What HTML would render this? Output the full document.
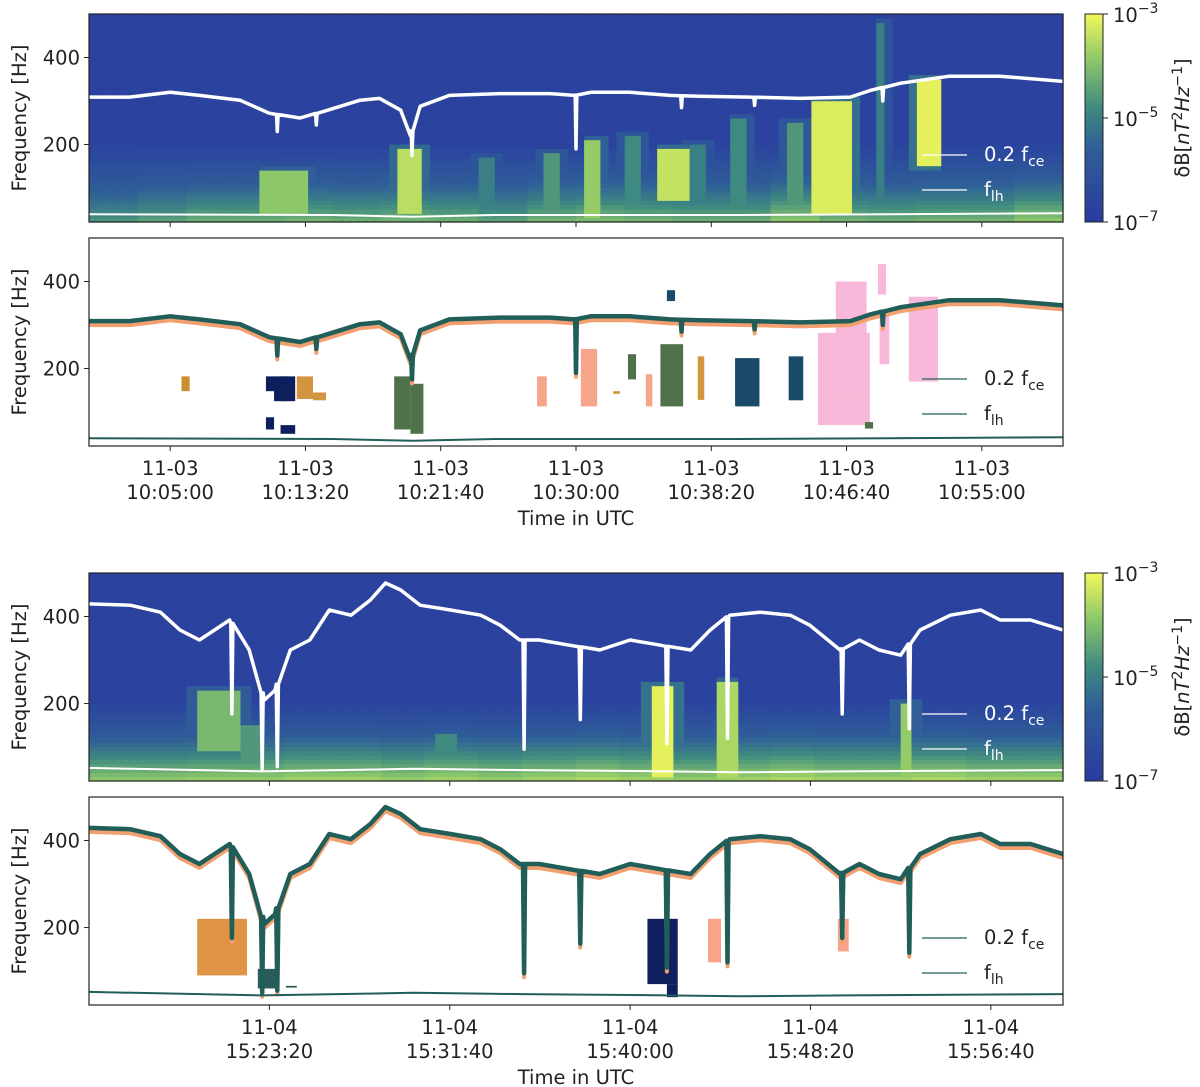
<!DOCTYPE html>
<html><head><meta charset="utf-8">
<style>
body{margin:0;background:#fff;}
svg{display:block;font-family:"DejaVu Sans","Liberation Sans",sans-serif;}
</style></head>
<body>
<svg id="fig" width="1200" height="1087" viewBox="0 0 1200 1087" xmlns="http://www.w3.org/2000/svg">
<defs>
<linearGradient id="cbgrad" x1="0" y1="1" x2="0" y2="0">
<stop offset="0" stop-color="#2a3ba0"/><stop offset="0.35" stop-color="#2f5e98"/>
<stop offset="0.55" stop-color="#3f8a80"/><stop offset="0.78" stop-color="#8cc86a"/>
<stop offset="1" stop-color="#f2f75a"/></linearGradient>
</defs>
</svg>
<script>
// ---------- data (times in minutes from panel start, frequencies in Hz) ----------
const ticksA = ["10:05:00","10:13:20","10:21:40","10:30:00","10:38:20","10:46:40","10:55:00"];
const tickMinA = [5, 13.333, 21.667, 30, 38.333, 46.667, 55];
const ticksB = ["15:23:20","15:31:40","15:40:00","15:48:20","15:56:40"];
const tickMinB = [8.333, 16.667, 25, 33.333, 41.667];

const fceTimeA = [0,2.5,5.0,6.8,9.3,11.1,13.0,14.8,16.7,17.9,19.2,19.8,20.4,22.2,25.3,28.4,29.9,30.9,33.3,35.8,37.6,40.7,43.8,46.9,48.1,50.0,53.0,56.1,60];
const fceValA  = [309,309,320,313,302,272,261,280,302,306,279,220,288,313,317,317,313,320,320,313,311,309,306,309,324,341,357,357,345];
const dipTimeA = [11.6,14.0,19.9,30.0,36.5,41.0,48.9];
const dipValA  = [230,245,175,190,285,290,300];
const flhTimeA = [0,15,20,25,40,60];
const flhValA  = [40,38,34,38,38,42];

const fceTimeB = [0,1.9,3.3,4.2,5.1,6.5,7.4,8.1,8.6,9.3,10.2,11.1,12.1,13.0,13.7,14.4,15.3,16.7,18.1,19.0,19.9,20.8,22.2,23.6,25.0,26.4,27.8,28.7,29.6,31.0,32.4,33.3,34.7,35.6,36.5,37.5,38.4,39.8,41.2,42.1,43.5,45];
const fceValB  = [429,426,410,369,346,392,323,208,231,323,346,415,403,438,477,461,426,415,403,380,346,346,334,323,346,334,323,369,403,410,403,380,323,346,323,311,369,403,415,392,392,369];
const dipTimeB = [6.6,8.0,8.7,20.1,22.7,26.7,29.5,34.8,37.9];
const dipValB  = [176,50,55,95,163,108,120,176,142];
const flhTimeB = [0,8,15,20,25,30,35,45];
const flhValB  = [52,44,50,47,45,42,44,47];

// spectrogram bursts: [t0, t1, fLow, fHigh, level]
const burstT0A = [10.6,18.8,30.6,35.2,27.8,44.6,50.8,48.6,39.6,43.0,24.0,33.0,37.0];
const burstT1A = [13.6,20.6,31.6,37.0,29.0,47.0,52.4,49.0,40.6,44.0,25.0,34.0,38.0];
const burstLoA = [40,40,30,70,40,40,150,30,40,40,40,40,40];
const burstHiA = [141,187,210,190,180,302,348,480,260,250,170,220,200];
const burstLvA = [0.78,0.88,0.8,0.9,0.6,0.95,0.97,0.5,0.55,0.6,0.5,0.55,0.5];
const lowBandA = [0.6,0.65,0.7,0.7,0.72,0.7,0.72,0.7,0.65,0.72,0.75,0.72,0.7,0.7,0.8,0.72,0.7,0.72,0.72,0.8];

const burstT0B = [4.9,25.8,29.2,37.4,7.0,16.0];
const burstT1B = [7.1,27.2,29.9,38.1,8.2,17.0];
const burstLoB = [90,30,30,30,30,30];
const burstHiB = [231,240,250,200,150,130];
const burstLvB = [0.72,0.97,0.85,0.8,0.6,0.55];
const lowBandB = [0.8,0.8,0.82,0.82,0.85,0.85,0.82,0.85,0.82,0.85,0.88,0.85,0.82,0.85,0.88,0.85,0.85,0.88,0.85,0.85];

// classified patches: [t0,t1,f0,f1,colorIndex]
const patchColors = ["#c98f2e","#0d1f5c","#d39540","#4f724a","#f6a58b","#1a4a6a","#f7b8d9","#2a5a5a","#df9445"];
const pT0A=[5.7,10.9,11.4,11.8,10.9,11.8,12.8,13.8,18.8,19.8,27.6,30.3,32.3,33.2,34.3,35.2,35.6,37.5,39.8,43.1,44.9,46.0,46.0,48.6,48.7,50.5,47.8];
const pT1A=[6.2,12.2,12.2,12.7,11.4,12.7,13.8,14.6,19.8,20.6,28.2,31.3,32.7,33.7,34.7,36.6,36.1,37.9,41.3,44.0,48.1,47.9,47.5,49.1,49.3,52.3,48.3];
const pF0A=[148,148,125,125,60,50,130,127,60,50,113,113,142,175,113,113,355,128,113,127,70,100,140,370,210,170,62];
const pF1A=[182,182,162,182,88,70,182,145,182,165,182,245,148,233,187,256,380,228,224,228,282,400,282,440,320,365,77];
const pT0B=[5.0,7.8,9.1,25.8,26.7,28.6,34.6,26.2];
const pT1B=[7.3,8.6,9.6,27.2,27.2,29.2,35.1,26.7];
const pF0B=[90,60,62,70,40,120,145,95];
const pF1B=[220,105,66,220,70,220,220,135];
const pCA=[0,1,1,1,1,1,2,2,3,3,4,4,0,3,4,3,5,2,5,5,6,6,6,6,6,6,3];
const pCB=[8,7,7,1,1,4,4,1];

// ---------- helpers ----------
const NS="http://www.w3.org/2000/svg";
const svg=document.getElementById('fig');
const FS=19.5;
function el(tag,attrs,parent){const e=document.createElementNS(NS,tag);for(const k in attrs)e.setAttribute(k,attrs[k]);(parent||svg).appendChild(e);return e;}
const X0=89,W=974,H=208,FMIN=22,FMAX=500;
function xs(span){return t=>X0+t/span*W;}
function ys(top){return f=>top+(FMAX-f)/(FMAX-FMIN)*H;}
function lerp(ts,vs,t){for(let i=0;i<ts.length-1;i++){if(t<=ts[i+1]){const u=(t-ts[i])/(ts[i+1]-ts[i]);return vs[i]+u*(vs[i+1]-vs[i]);}}return vs[vs.length-1];}
function cmap(v){const st=[[0,[42,63,160]],[0.35,[47,94,152]],[0.55,[63,138,128]],[0.78,[140,200,106]],[1,[242,247,90]]];v=Math.max(0,Math.min(1,v));for(let i=0;i<st.length-1;i++){if(v<=st[i+1][0]){const u=(v-st[i][0])/(st[i+1][0]-st[i][0]);const c=st[i][1].map((a,j)=>Math.round(a+u*(st[i+1][1][j]-a)));return `rgb(${c})`;}}return 'rgb(242,247,90)';}
function linePath(times,vals,dipT,dipV,X,Y,dy){
  const pts=times.map((t,i)=>[t,vals[i]]);
  dipT.forEach((t,i)=>{const base=lerp(times,vals,t);pts.push([t-0.05,base],[t,dipV[i]],[t+0.05,base]);});
  pts.sort((a,b)=>a[0]-b[0]);
  return pts.map((p,i)=>(i?'L':'M')+X(p[0]).toFixed(1)+','+(Y(p[1])+dy).toFixed(1)).join('');
}

function spectro(top,span,bT0,bT1,bLo,bHi,bLv,low,name){
  const X=xs(span),Y=ys(top);
  const g=el('g',{});
  
  
  const nt=Math.round(span*2),nf=48;
  for(let i=0;i<nt;i++){
    const t=(i+0.5)*span/nt;
    const lb=low[Math.min(low.length-1,Math.floor(t/span*low.length))];
    for(let j=0;j<nf;j++){
      const f0=FMIN+j*(FMAX-FMIN)/nf,f1=f0+(FMAX-FMIN)/nf,f=(f0+f1)/2;
      let v=0.04;
      if(f<230)v=Math.max(v,lb*Math.pow(Math.max(0,(230-f)/208),1.3));
      for(let k=0;k<bT0.length;k++){
        if(t>=bT0[k]&&t<=bT1[k]&&f>=bLo[k]&&f<=bHi[k])v=Math.max(v,bLv[k]);
        else if(t>=bT0[k]-0.3&&t<=bT1[k]+0.3&&f>=bLo[k]-12&&f<=bHi[k]+12)v=Math.max(v,bLv[k]*0.45);
      }
      el('rect',{x:X(i*span/nt).toFixed(1),y:Y(f1).toFixed(1),width:(W/nt+0.6).toFixed(1),height:(H/nf+0.6).toFixed(1),fill:cmap(v)},g);
    }
  }
}

function frame(top,name){
  const r=el('rect',{x:X0,y:top,width:W,height:H,fill:'none',stroke:'#222','stroke-width':1.2});
  
  
}
function yaxis(top,name){
  const Y=ys(top);
  [400,200].forEach(f=>{
    el('line',{x1:X0-5,x2:X0,y1:Y(f),y2:Y(f),stroke:'#222'});
    const t=el('text',{x:X0-9,y:Y(f)+7,'text-anchor':'end','font-size':FS,fill:'#222'});t.textContent=f;
    
    
  });
  const yl=el('text',{x:0,y:0,transform:`translate(26,${top+H/2}) rotate(-90)`,'text-anchor':'middle','font-size':FS,fill:'#222'});
  yl.textContent='Frequency [Hz]';
  
  
}
function xticks(top,span,tm,labels,day,withLabels){
  const X=xs(span);
  tm.forEach((m,i)=>{
    el('line',{x1:X(m),x2:X(m),y1:top+H,y2:top+H+5,stroke:'#222'});
    if(withLabels){
      const a=el('text',{x:X(m),y:top+H+29,'text-anchor':'middle','font-size':FS,fill:'#222'});a.textContent=day;
      
      
      const b=el('text',{x:X(m),y:top+H+53,'text-anchor':'middle','font-size':FS,fill:'#222'});b.textContent=labels[i];
      
      
    }
  });
  if(withLabels){
    const t=el('text',{x:576,y:top+H+79,'text-anchor':'middle','font-size':FS,fill:'#222'});t.textContent='Time in UTC';
    
    
  }
}
function legend(top,col){
  const ys1=[top+141,top+176];
  const lab=[['0.2 f','ce'],['f','lh']];
  ys1.forEach((y,i)=>{
    el('line',{x1:922,x2:967,y1:y,y2:y,stroke:col,'stroke-width':1.2});
    const t=el('text',{x:984,y:y+6,'font-size':FS,fill:col==='#fff'?'#fff':'#222'});
    
    
    t.textContent=lab[i][0];
    const s=el('tspan',{dy:5,'font-size':14},t);s.textContent=lab[i][1];
  });
}
function colorbar(top){
  const r=el('rect',{x:1085,y:top,width:18,height:H,fill:'url(#cbgrad)',stroke:'#222','stroke-width':1});
  
  
  [['-3',0],['-5',H/2],['-7',H]].forEach(([e,dy])=>{
    el('line',{x1:1103,x2:1108,y1:top+dy,y2:top+dy,stroke:'#222'});
    const t=el('text',{x:1113,y:top+dy+8,'font-size':FS,fill:'#222'});t.textContent='10';
    
    
    const s=el('tspan',{dy:-9,'font-size':14},t);s.textContent='−'+e.slice(1);
  });
  const t=el('text',{transform:`translate(1189,${top+H/2}) rotate(-90)`,'text-anchor':'middle','font-size':FS,fill:'#222'});
  
  
  t.textContent='δB[';
  const a=el('tspan',{'font-style':'italic'},t);a.textContent='nT';
  const b=el('tspan',{dy:-7,'font-size':14},t);b.textContent='2';
  const c=el('tspan',{dy:7,'font-style':'italic'},t);c.textContent='Hz';
  const d=el('tspan',{dy:-7,'font-size':14},t);d.textContent='−1';
  const e2=el('tspan',{dy:7},t);e2.textContent=']';
}
function patches(top,span,T0,T1,F0,F1,C,name){
  const X=xs(span),Y=ys(top);
  T0.forEach((t,i)=>{
    const r=el('rect',{x:X(t),y:Y(F1[i]),width:X(T1[i])-X(t),height:Y(F0[i])-Y(F1[i]),fill:patchColors[C[i]]});
    
    
  });
}
function lines(top,span,fT,fV,dT,dV,lT,lV,white){
  const X=xs(span),Y=ys(top);
  if(white){
    const p=el('path',{d:linePath(fT,fV,dT,dV,X,Y,0),fill:'none',stroke:'#fff','stroke-width':3.5,'stroke-linejoin':'round'});
    
    
    const q=el('path',{d:linePath(lT,lV,[],[],X,Y,0),fill:'none',stroke:'#fff','stroke-width':2});
    
    
  } else {
    const o=el('path',{d:linePath(fT,fV,dT,dV,X,Y,4),fill:'none',stroke:'#f3a070','stroke-width':4,'stroke-linejoin':'round'});
    
    
    const p=el('path',{d:linePath(fT,fV,dT,dV,X,Y,0),fill:'none',stroke:'#215e5a','stroke-width':4.5,'stroke-linejoin':'round'});
    
    
    const q=el('path',{d:linePath(lT,lV,[],[],X,Y,0),fill:'none',stroke:'#215e5a','stroke-width':2});
    
    
  }
}

// ---------- panels ----------
const tA=14,tB=238,tC=573,tD=797;
spectro(tA,60,burstT0A,burstT1A,burstLoA,burstHiA,burstLvA,lowBandA,'spectrogram-1');
lines(tA,60,fceTimeA,fceValA,dipTimeA,dipValA,flhTimeA,flhValA,true);
legend(tA,'#fff');frame(tA,'panel-1');yaxis(tA,'y-axis-title-1');xticks(tA,60,tickMinA,ticksA,'11-03',false);colorbar(tA);

patches(tB,60,pT0A,pT1A,pF0A,pF1A,pCA,'wave-patch');
lines(tB,60,fceTimeA,fceValA,dipTimeA,dipValA,flhTimeA,flhValA,false);
legend(tB,'#215e5a');frame(tB,'panel-2');yaxis(tB,'y-axis-title-2');xticks(tB,60,tickMinA,ticksA,'11-03',true);

spectro(tC,45,burstT0B,burstT1B,burstLoB,burstHiB,burstLvB,lowBandB,'spectrogram-3');
lines(tC,45,fceTimeB,fceValB,dipTimeB,dipValB,flhTimeB,flhValB,true);
legend(tC,'#fff');frame(tC,'panel-3');yaxis(tC,'y-axis-title-3');xticks(tC,45,tickMinB,ticksB,'11-04',false);colorbar(tC);

patches(tD,45,pT0B,pT1B,pF0B,pF1B,pCB,'wave-patch');
lines(tD,45,fceTimeB,fceValB,dipTimeB,dipValB,flhTimeB,flhValB,false);
legend(tD,'#215e5a');frame(tD,'panel-4');yaxis(tD,'y-axis-title-4');xticks(tD,45,tickMinB,ticksB,'11-04',true);
</script>
</body></html>
